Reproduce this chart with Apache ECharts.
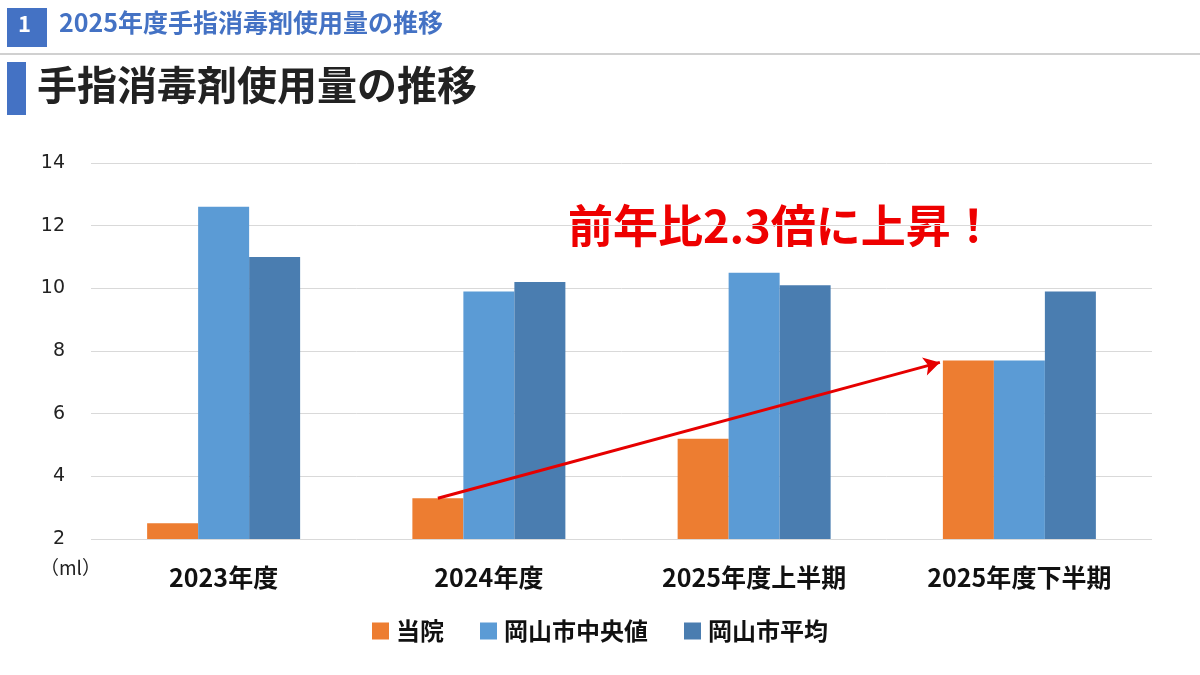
<!DOCTYPE html>
<html><head><meta charset="utf-8">
<script src="https://cdn.jsdelivr.net/npm/echarts@6/dist/echarts.min.js"></script>
<style>html,body{margin:0;padding:0;background:#fff}#c{width:1200px;height:675px}</style>
</head><body><div id="c"></div>
<script>
var categories = ['2023年度', '2024年度', '2025年度上半期', '2025年度下半期'];
var seriesNames = ['当院', '岡山市中央値', '岡山市平均'];
var hospital = [2.5, 3.3, 5.2, 7.7];
var cityMedian = [12.6, 9.9, 10.5, 7.7];
var cityAverage = [11.0, 10.2, 10.1, 9.9];
var yTicks = [2, 4, 6, 8, 10, 12, 14];
var arrowFrom = 1, arrowTo = 3;

var CJK = '"Noto Sans CJK JP","Noto Sans",sans-serif';
var BW = 51;
var chart = echarts.init(document.getElementById('c'));
var option = {
  backgroundColor: '#fff',
  animation: false,
  textStyle: { fontFamily: CJK },
  grid: { left: 91, right: 48, top: 163, bottom: 136 },
  legend: {
    data: seriesNames, top: 614, left: 'center',
    itemWidth: 17, itemHeight: 17, itemGap: 36, icon: 'rect',
    textStyle: { fontSize: 24, fontWeight: 'bold', color: '#111', fontFamily: CJK, padding: [0, 0, 0, 2] }
  },
  xAxis: {
    type: 'category', data: categories,
    axisLine: { show: false }, axisTick: { show: false },
    axisLabel: { fontSize: 25, fontWeight: 'bold', color: '#111', margin: 26, fontFamily: CJK }
  },
  yAxis: {
    type: 'value', min: yTicks[0], max: yTicks[yTicks.length - 1], interval: 2,
    axisLine: { show: false }, axisTick: { show: false },
    axisLabel: { fontSize: 19, color: '#222', margin: 26, fontFamily: '"DejaVu Sans",sans-serif' },
    splitLine: { lineStyle: { color: '#d9d9d9', width: 1 } }
  },
  graphic: [
    { type: 'rect', shape: { x: 7, y: 8, width: 40, height: 39 }, style: { fill: '#4472C4' } },
    { type: 'text', left: 18, top: 13, style: { text: '1', fill: '#fff', font: 'bold 22px ' + CJK } },
    { type: 'text', left: 59, top: 10, style: { text: '2025年度手指消毒剤使用量の推移', fill: '#4472C4', font: 'bold 25px ' + CJK } },
    { type: 'rect', shape: { x: 0, y: 53, width: 1200, height: 2 }, style: { fill: '#d0d0d0' } },
    { type: 'rect', shape: { x: 7, y: 62, width: 19, height: 53 }, style: { fill: '#4472C4' } },
    { type: 'text', left: 37, top: 65, style: { text: '手指消毒剤使用量の推移', fill: '#222', font: 'bold 40px ' + CJK } },
    { type: 'text', left: 40, top: 558, style: { text: '（ml）', fill: '#222', font: '19px ' + CJK } },
    { type: 'text', left: 568, top: 203, style: { text: '前年比2.3倍に上昇！', fill: '#ee0000', font: 'bold 45px ' + CJK } }
  ],
  series: [
    { name: seriesNames[0], type: 'bar', data: hospital, barWidth: BW, barGap: '0%', itemStyle: { color: '#ED7D31' } },
    { name: seriesNames[1], type: 'bar', data: cityMedian, barWidth: BW, barGap: '0%', itemStyle: { color: '#5B9BD5' } },
    { name: seriesNames[2], type: 'bar', data: cityAverage, barWidth: BW, barGap: '0%', itemStyle: { color: '#4A7DB0' } }
  ]
};
chart.setOption(option);

var x0 = chart.convertToPixel({ xAxisIndex: 0 }, arrowFrom) - BW;
var y0 = chart.convertToPixel({ yAxisIndex: 0 }, hospital[arrowFrom]);
var x1 = chart.convertToPixel({ xAxisIndex: 0 }, arrowTo) - 1.5 * BW - 3;
var y1 = chart.convertToPixel({ yAxisIndex: 0 }, hospital[arrowTo]) + 2;
chart.setOption({
  series: [{
    markLine: {
      silent: true, animation: false,
      symbol: ['none', 'arrow'], symbolSize: [14, 16],
      label: { show: false },
      lineStyle: { color: '#e60000', width: 3, type: 'solid' },
      data: [[{ x: x0, y: y0 }, { x: x1, y: y1 }]]
    }
  }]
});
</script>
</body></html>
